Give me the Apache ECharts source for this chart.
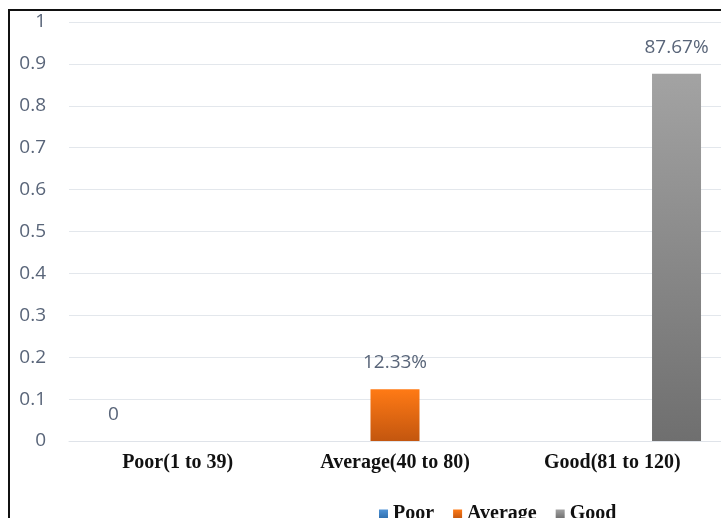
<!DOCTYPE html>
<html>
<head>
<meta charset="utf-8">
<script src="https://cdn.jsdelivr.net/npm/echarts@6/dist/echarts.min.js"></script>
<style>
  html, body { margin: 0; padding: 0; background: #fff; }
  #frame {
    position: absolute; left: 8px; top: 9px;
    width: 713px; height: 509px;
    border-left: 2px solid #111; border-top: 2px solid #111;
    overflow: hidden;
  }
  #chart { width: 711px; height: 507px; }
</style>
</head>
<body>
<div id="frame"><div id="chart"></div></div>
<script>
var categories = ['Poor(1 to 39)', 'Average(40 to 80)', 'Good(81 to 120)'];
var seriesNames = ['Poor', 'Average', 'Good'];
var poorData = [0, null, null];
var averageData = [null, 0.1233, null];
var goodData = [null, null, 0.8767];
var yTicks = [0, 0.1, 0.2, 0.3, 0.4, 0.5, 0.6, 0.7, 0.8, 0.9, 1];

var labelColor = '#596579';

function grad(top, bottom) {
    return new echarts.graphic.LinearGradient(0, 0, 0, 1, [
        { offset: 0, color: top },
        { offset: 1, color: bottom }
    ]);
}

var valueLabel = {
    show: true,
    position: 'top',
    distance: 17,
    color: labelColor,
    fontSize: 19,
    fontFamily: 'Open Sans',
    formatter: function (p) {
        if (p.value === 0) return '0';
        return (p.value * 100).toFixed(2) + '%';
    }
};

var myChart = echarts.init(document.getElementById('chart'));
var option = {
    animation: false,
    backgroundColor: '#fff',
    grid: { left: 59, right: -8, top: 11, bottom: 77 },
    legend: {
        top: 488,
        left: 364,
        data: seriesNames,
        icon: 'rect',
        itemWidth: 9,
        itemHeight: 9,
        itemGap: 19,
        textStyle: {
            color: '#111',
            fontSize: 20,
            fontWeight: 'bold',
            fontFamily: 'Liberation Serif'
        }
    },
    xAxis: {
        type: 'category',
        data: categories,
        axisTick: { show: false },
        axisLine: { lineStyle: { color: '#dfe3e9', width: 1 } },
        axisLabel: {
            margin: 12,
            color: '#111',
            fontSize: 20,
            fontWeight: 'bold',
            fontFamily: 'Liberation Serif'
        }
    },
    yAxis: {
        type: 'value',
        min: yTicks[0],
        max: yTicks[yTicks.length - 1],
        interval: 0.1,
        axisLine: { show: false },
        axisTick: { show: false },
        splitLine: { lineStyle: { color: '#e3e7ec', width: 1 } },
        axisLabel: {
            margin: 23,
            color: labelColor,
            fontSize: 19,
            fontFamily: 'Open Sans',
            formatter: function (v) { return String(Math.round(v * 10) / 10); }
        }
    },
    series: [
        {
            name: 'Poor', type: 'bar', data: poorData,
            barWidth: 49, barGap: '31%',
            itemStyle: { color: grad('#4f93d6', '#2f6fae') },
            label: valueLabel
        },
        {
            name: 'Average', type: 'bar', data: averageData,
            barWidth: 49, barGap: '31%',
            itemStyle: { color: grad('#ff7a15', '#c3560f') },
            label: valueLabel
        },
        {
            name: 'Good', type: 'bar', data: goodData,
            barWidth: 49, barGap: '31%',
            itemStyle: { color: grad('#a3a3a3', '#6f6f6f') },
            label: valueLabel
        }
    ]
};
option && myChart.setOption(option);
</script>
</body>
</html>
